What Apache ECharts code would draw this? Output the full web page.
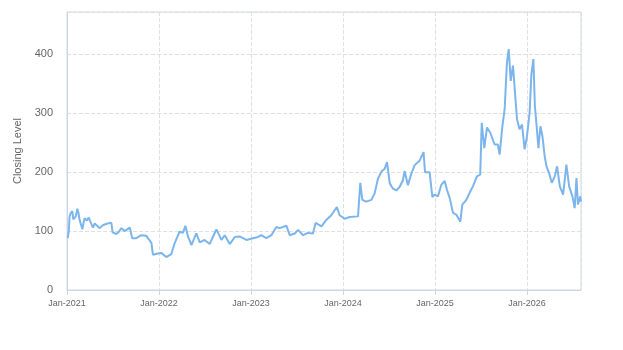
<!DOCTYPE html>
<html>
<head>
<meta charset="utf-8">
<script src="https://cdn.jsdelivr.net/npm/echarts@6/dist/echarts.min.js"></script>
<style>
html,body{margin:0;padding:0;background:#fff;}
#c{width:623px;height:350px;}
</style>
</head>
<body>
<div id="c"></div>
<script>
var dates = [
'2021-01-04','2021-01-08','2021-01-11','2021-01-15','2021-01-22','2021-01-26','2021-01-31','2021-02-05','2021-02-11','2021-02-15','2021-02-20','2021-02-25','2021-03-03','2021-03-08','2021-03-12','2021-03-21','2021-03-28','2021-04-04','2021-04-14','2021-04-21','2021-04-28','2021-05-11','2021-05-23','2021-06-11','2021-06-26','2021-07-01','2021-07-16','2021-07-26','2021-08-05','2021-08-18','2021-09-07','2021-09-17','2021-10-03','2021-10-23','2021-11-12','2021-12-02','2021-12-08','2021-12-28',
'2022-01-10','2022-01-30','2022-02-19','2022-03-04','2022-03-24','2022-04-06','2022-04-16','2022-04-26','2022-05-10','2022-05-29','2022-06-12','2022-07-01','2022-07-21','2022-08-03','2022-08-17','2022-09-06','2022-09-19','2022-10-09','2022-10-29','2022-11-17','2022-12-14',
'2023-01-09','2023-01-29','2023-02-11','2023-03-03','2023-03-23','2023-04-12','2023-04-25','2023-05-22','2023-06-04','2023-06-24','2023-07-07','2023-07-27','2023-08-15','2023-09-04','2023-09-15','2023-10-08','2023-10-27','2023-11-16','2023-12-08','2023-12-19',
'2024-01-08','2024-01-28','2024-03-01','2024-03-10','2024-03-18','2024-04-03','2024-04-23','2024-05-06','2024-05-19','2024-06-02','2024-06-15','2024-06-24','2024-07-05','2024-07-18','2024-07-31','2024-08-13','2024-08-26','2024-09-02','2024-09-15','2024-09-29','2024-10-12','2024-11-01','2024-11-16','2024-11-22','2024-12-10','2024-12-21','2024-12-30',
'2025-01-12','2025-01-26','2025-02-08','2025-02-17','2025-02-28','2025-03-13','2025-03-26','2025-04-11','2025-04-19','2025-05-05','2025-05-18','2025-05-31','2025-06-16','2025-06-29','2025-07-05','2025-07-15','2025-07-26','2025-08-08','2025-08-25','2025-09-07','2025-09-14','2025-09-25','2025-10-04','2025-10-13','2025-10-20','2025-10-28','2025-11-06','2025-11-14','2025-11-22','2025-12-02','2025-12-12','2025-12-22','2025-12-31',
'2026-01-11','2026-01-18','2026-01-26','2026-02-01','2026-02-09','2026-02-15','2026-02-23','2026-03-03','2026-03-12','2026-03-19','2026-03-29','2026-04-09','2026-04-21','2026-04-30','2026-05-11','2026-05-24','2026-06-06','2026-06-17','2026-06-30','2026-07-09','2026-07-16','2026-07-22','2026-07-31','2026-08-03'
];
var closing = [
88,100,124,130,134,120,117,125,138,132,119,112,103,115,122,118,123,120,106,113,112,105,110,113,114,98,95,99,105,100,106,88,88,93,92,80,60,62,
63,56,61,79,99,97,109,91,76,96,81,85,78,90,103,85,93,78,90,91,85,
88,90,93,88,93,107,105,109,93,96,102,93,97,96,114,108,119,127,141,127,
121,124,125,182,153,150,153,164,189,201,206,217,181,172,169,175,186,202,178,198,212,220,234,200,200,158,162,
159,179,185,170,156,131,128,116,145,153,165,176,193,196,284,241,276,267,247,247,230,278,307,386,409,355,381,335,290,273,281,239,259,
301,366,392,312,273,241,278,261,227,210,199,182,193,210,176,162,213,176,159,139,190,145,159,150
];
var yTicks = [0, 100, 200, 300, 400];
var monthNames = ['Jan','Feb','Mar','Apr','May','Jun','Jul','Aug','Sep','Oct','Nov','Dec'];

var seriesData = dates.map(function (d, i) { return [d, closing[i]]; });
var FONT = "'Liberation Sans', Arial, sans-serif";

var chart = echarts.init(document.getElementById('c'), null, {renderer: 'canvas'});
chart.setOption({
  animation: false,
  textStyle: {fontFamily: FONT},
  grid: {left: 67, right: 42, top: 12, bottom: 60, show: true, borderColor: '#ccd6eb', borderWidth: 1, backgroundColor: 'transparent'},
  xAxis: {
    type: 'time',
    min: '2021-01-01',
    max: '2026-08-03',
    minInterval: 365 * 24 * 3600 * 1000,
    axisLine: {lineStyle: {color: '#ccd6eb'}},
    axisTick: {show: true, length: 5, lineStyle: {color: '#ccd6eb'}},
    axisLabel: {
      color: '#666', fontSize: 9, fontFamily: FONT, margin: 9,
      showMinLabel: true, showMaxLabel: false,
      formatter: function (v) { var d = new Date(v); return monthNames[d.getUTCMonth()] + '-' + d.getUTCFullYear(); }
    },
    splitLine: {show: true, lineStyle: {color: '#e0e0e0', type: 'dashed'}}
  },
  yAxis: {
    type: 'value',
    min: yTicks[0],
    max: 472,
    interval: 100,
    name: 'Closing Level',
    nameLocation: 'middle',
    nameGap: 40,
    nameTextStyle: {color: '#666', fontSize: 11, fontFamily: FONT},
    axisLine: {show: true, lineStyle: {color: '#ccd6eb'}},
    axisTick: {show: false},
    axisLabel: {
      color: '#666', fontSize: 11, fontFamily: FONT, margin: 14,
      formatter: function (v) { return yTicks.indexOf(v) >= 0 ? String(v) : ''; }
    },
    splitLine: {show: true, lineStyle: {color: '#e0e0e0', type: 'dashed'}}
  },
  series: [{
    type: 'line',
    data: seriesData,
    showSymbol: false,
    symbol: 'none',
    lineStyle: {color: '#7cb5ec', width: 2},
    itemStyle: {color: '#7cb5ec'}
  }]
});
</script>
</body>
</html>
